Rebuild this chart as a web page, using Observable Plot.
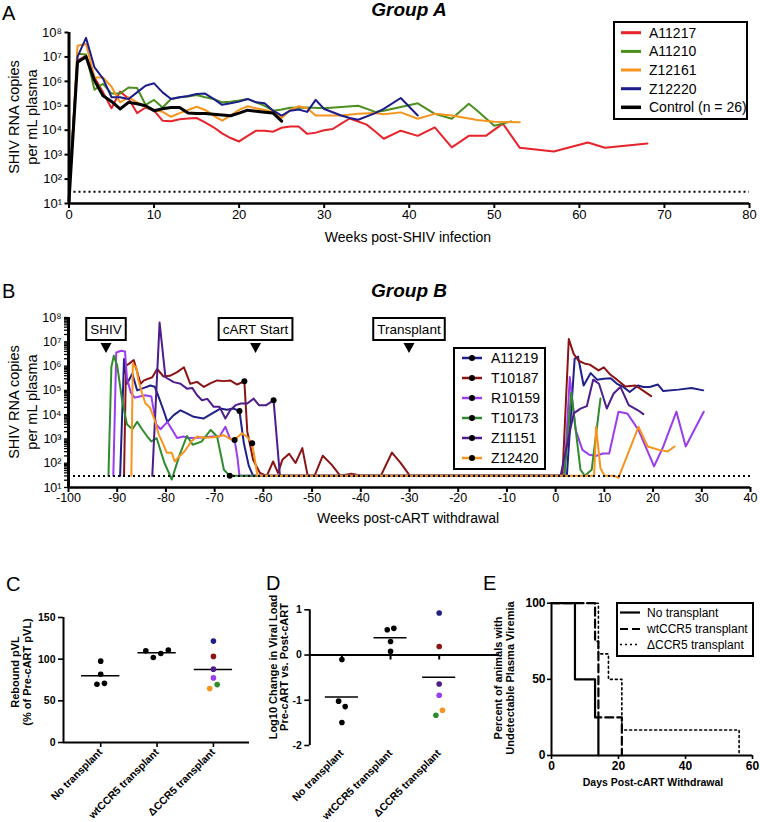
<!DOCTYPE html>
<html><head><meta charset="utf-8">
<script src="https://cdn.jsdelivr.net/npm/d3@7"></script>
<script src="https://cdn.jsdelivr.net/npm/@observablehq/plot@0.6"></script>
<style>
body{margin:0;background:#fff;}
#root{position:relative;width:760px;height:822px;overflow:hidden;background:#fff;}
#root svg{position:absolute;overflow:visible;}
</style>
</head><body><div id="root"></div>
<script>
// ---------------- DATA ----------------
const LOD = 30;
// Panel A (log10 SHIV RNA copies/mL by week post-infection)
const aNames = ["A11217", "A11210", "Z12161", "Z12220", "Control (n = 26)"];
const weeksA11217 = [0,1,2,3,4,5,6,7,8,9,10,11,12,13,14,15,16,17,18,19,20,21,22,23,24,25,26,27,28,29,30,31,32,33,35,36,37,39,41,43,45,47,49,51,53,57,61,63,68];
const logA11217 = [1.3,6.85,7.05,6.16,5.55,4.9,5.58,5.3,4.7,4.93,4.8,4.39,4.37,4.45,4.48,4.5,4.32,4.12,3.87,3.68,3.54,3.77,3.98,3.98,3.94,4.1,4.15,4.15,3.85,3.9,4.0,4.05,4.27,4.48,4.23,3.95,3.65,3.98,3.77,4.12,3.3,3.77,3.77,4.27,3.28,3.13,3.5,3.28,3.46];
const weeksA11210 = [0,1,2,3,4,5,6,7,8,9,10,11,12,13,14,15,16,17,18,19,20,21,22,23,24,25,26,28,30,32,34,36,37,39,41,43,45,47,48,50,52];
const logA11210 = [1.3,7.13,7.1,5.66,5.9,5.5,5.5,5.75,5.73,5.04,5.24,4.93,5.28,5.35,5.38,5.44,5.35,5.28,5.14,5.17,5.22,5.28,5.14,5.0,4.8,4.85,4.92,4.93,4.9,4.95,5.0,4.75,4.8,4.95,5.1,4.67,4.47,5.08,4.8,4.18,4.36];
const weeksZ12161 = [0,1,2,3,4,5,6,7,8,9,10,11,12,13,14,15,16,17,18,19,20,21,22,23,24,25,26,27,28,29,30,32,34,36,37,39,41,43,45,48,50,53];
const logZ12161 = [1.3,7.46,7.53,6.16,6.16,5.78,5.14,5.35,5.14,4.96,4.83,4.75,4.55,4.7,4.83,4.96,4.83,4.6,4.39,4.6,4.83,4.98,4.9,4.83,4.75,4.5,4.83,4.98,4.9,4.6,4.6,4.6,4.67,4.7,4.65,4.73,4.47,4.67,4.6,4.42,4.35,4.33];
const weeksZ12220 = [0,1,2,3,4,5,6,7,8,9,10,11,12,13,14,15,16,17,18,19,20,21,22,23,24,25,26,27,28,29,30,32,33,34,36,37,39,41];
const logZ12220 = [1.3,7.0,7.78,6.57,6.11,5.35,5.35,5.28,5.55,5.82,5.92,5.55,5.28,5.35,5.4,5.48,5.5,5.28,5.04,5.1,5.17,5.28,5.14,5.1,4.8,4.6,4.8,4.85,4.75,5.24,4.87,4.6,4.5,4.43,4.7,4.87,5.32,4.6];
const weeksControl = [0,1,2,3,4,5,6,7,8,9,10,11,12,13,14,15,16,17,18,19,20,21,22,23,24,25];
const logControl = [1.1,6.78,7.01,6.03,5.41,5.18,4.87,5.14,5.08,5.0,4.8,4.88,4.93,4.93,4.7,4.68,4.68,4.65,4.62,4.59,4.7,4.82,4.78,4.74,4.7,4.37];

// Panel B (log10 copies by week post-cART withdrawal)
const bNames = ["A11219", "T10187", "R10159", "T10173", "Z11151", "Z12420"];
const weeksA11219 = [-89.4,-88.6,-88.0,-86.9,-85.9,-84.5,-83.2,-82.3,-81.5,-80.5,-79.7,-78.4,-77.0,-75.7,-74.3,-72.3,-70.5,-68.8,-67.5,-66.1,-64.9,-64.0,-63.0,-62.1,2.3,3.9,4.6,5.75,7.2,8.5,9.9,11.3,12.6,13.9,15.2,16.9,18.0,19.3,21.0,22.1,25.2,27.9,30.3];
const logA11219 = [1.48,6.29,5.27,5.68,5.0,5.1,5.2,5.15,4.73,4.18,3.7,3.98,4.18,4.05,3.91,3.84,4.05,4.25,4.2,4.25,4.15,2.82,1.9,1.48,1.48,6.3,6.39,5.2,5.71,5.44,5.48,5.5,5.27,5.14,4.93,5.2,5.14,5.14,5.24,4.97,5.03,5.1,5.0];
const weeksT10187 = [-88.6,-88.2,-87.6,-86.6,-85.2,-84.5,-82.8,-81.8,-80.5,-79.2,-77.7,-76.3,-75.0,-73.6,-72.2,-70.8,-69.5,-68.1,-66.8,-65.4,-63.9,-63.3,-62.1,-60.7,-59.3,-58.0,-57.0,-56.1,-54.7,-53.4,-52.0,-50.9,-49.5,-47.8,-46.0,-44.2,-41.9,-40.0,-35.9,-33.6,-31.8,-29.9,1.4,2.7,3.7,4.7,5.9,7.0,8.8,9.9,11.2,12.6,14.3,16.4,18.1,19.6];
const logT10187 = [1.48,6.02,6.09,6.25,5.27,5.41,5.54,5.88,5.57,5.6,5.75,5.95,5.27,5.35,5.14,5.3,5.41,5.38,5.41,5.24,5.37,3.3,2.14,1.6,1.48,2.07,1.6,2.14,2.39,2.01,2.62,1.48,1.48,2.31,1.94,1.48,1.57,1.48,1.48,2.44,2.0,1.48,1.48,7.11,6.5,6.22,6.11,6.06,5.82,5.95,5.65,5.44,5.16,5.2,4.97,4.76];
const weeksR10159 = [-90.8,-90.2,-89.2,-88.4,-88.0,-87.2,-86.4,-85.4,-84.2,-83.0,-82.0,-81.1,-79.7,-78.7,-77.7,-76.4,-75.2,-73.6,-72.0,-70.4,-69.0,-67.8,-66.8,-65.9,-65.3,-64.9,1.8,2.9,4.1,5.5,6.9,8.3,9.7,11.0,12.9,14.7,17.0,20.2,22.1,24.8,26.7,30.4];
const logR10159 = [1.48,6.56,6.63,6.6,5.5,4.9,4.7,4.75,4.8,4.75,3.6,3.4,3.7,3.37,3.04,3.1,3.04,3.05,3.07,3.1,3.1,3.5,3.0,2.96,2.2,1.48,1.48,5.55,3.37,2.55,2.35,2.3,2.4,2.4,4.12,4.05,3.37,1.87,2.69,4.12,2.69,4.12];
const weeksT10173 = [-91.8,-91.2,-90.7,-90.0,-89.0,-88.0,-86.9,-85.9,-84.9,-83.9,-83.0,-81.9,-80.3,-78.8,-77.3,-75.7,-74.5,-72.7,-70.8,-69.5,-68.1,-66.9,1.8,3.2,5.1,6.0,7.4,9.2];
const logT10173 = [1.48,5.95,6.43,6.02,4.6,3.6,3.4,3.7,3.4,3.12,2.9,3.03,2.01,1.33,2.28,3.12,2.76,2.89,3.37,3.1,1.73,1.48,1.48,4.93,1.73,1.48,1.73,4.66];
const weeksZ11151 = [-82.8,-81.3,-80.1,-78.4,-77.0,-75.7,-74.6,-73.6,-72.6,-71.5,-70.2,-69.0,-67.8,-66.8,-65.7,-64.6,-63.3,-62.0,-60.9,-59.4,-57.9,-56.6,1.0,3.7,5.1,6.4,7.7,8.9,10.5,11.9,13.3,15.0,16.9,18.0];
const logZ11151 = [1.48,7.79,5.54,5.34,5.27,5.07,5.1,4.8,4.59,4.65,4.32,4.32,3.84,4.18,4.39,4.46,4.46,4.66,4.39,4.39,4.59,1.48,1.48,4.05,4.25,4.35,5.44,5.27,4.25,4.87,5.14,4.39,4.18,4.02];
const weeksZ12420 = [-87.1,-86.8,-86.0,-85.7,-84.9,-84.2,-83.3,-82.3,-81.5,-80.8,-79.8,-78.8,-78.2,-77.2,-76.2,-74.8,-73.6,-72.2,-70.2,-68.1,-66.8,-65.9,-64.4,-63.4,-62.3,-61.2,7.9,8.3,9.2,10.0,12.0,12.9,17.0,18.9,21.2,23.0,24.4];
const logZ12420 = [1.48,6.09,5.9,5.46,4.87,4.46,4.3,3.78,3.2,2.89,2.43,2.43,2.07,2.3,2.48,2.89,3.1,3.05,3.07,3.15,3.0,2.96,3.23,3.1,2.82,1.48,1.48,3.5,1.8,1.48,1.48,1.4,3.5,2.69,2.55,2.48,2.69];
// pre-cART end points (black dots), animal order as bNames
const bDotWeeks = [-64.9, -63.9, -65.9, -66.9, -57.9, -62.3];
const bDotLogs = [4.15, 5.37, 2.96, 1.48, 4.59, 2.82];
// event annotations
const bEventLabels = ["SHIV", "cART Start", "Transplant"];
const bEventWeeks = [-92.2, -61.5, -30];

// Panels C & D
const groups = ["No transplant", "wtCCR5 transplant", "ΔCCR5 transplant"];
const cNo = [97.6, 81.9, 69.9, 71.0];
const cWt = [110.0, 102.0, 106.8, 110.8];
const cDelta = [121.7, 103.3, 88.0, 77.5, 64.7, 69.5];
const cDeltaAnimals = ["A11219", "T10187", "Z11151", "R10159", "Z12420", "T10173"];
const cMeans = [80.0, 107.6, 87.5];
const dNo = [-0.10, -1.02, -1.14, -1.49];
const dWt = [0.56, 0.59, 0.30, 0.08];
const dDelta = [0.93, 0.19, -0.64, -0.89, -1.33, -1.22];
const dDeltaAnimals = ["A11219", "T10187", "Z11151", "R10159", "T10173", "Z12420"];
const dMeans = [-0.93, 0.38, -0.49];

// Panel E (Kaplan-Meier style)
const eDaysNo = [0, 7, 13, 14];
const ePctNo = [100, 50, 25, 0];
const eDaysWt = [0, 13, 14, 21];
const ePctWt = [100, 75, 25, 0];
const eDaysDelta = [0, 14, 17, 21, 56];
const ePctDelta = [100, 66.7, 50, 16.7, 0];

// ---------------- STYLE ----------------
const FONT = '"Liberation Sans", Arial, Helvetica, sans-serif';
const aColors = ["#e8232b", "#4b8f1f", "#f7941d", "#1c1c8a", "#000000"];
const aWidths = [2, 2, 2, 2, 3];
const bColorMap = {A11219: "#1f1f87", T10187: "#8c1414", R10159: "#9a3cf0", T10173: "#2e8b2e", Z11151: "#4e1c8c", Z12420: "#f7941d"};

const sup = "⁰¹²³⁴⁵⁶⁷⁸⁹";
function powLabel(d) {
  const e = Math.log10(d), r = Math.round(e);
  return Math.abs(e - r) < 1e-6 ? "10" + String(r).split("").map(c => sup[+c]).join("") : "";
}
const plain = d => String(d);
const rows = (weeks, logs) => weeks.map((w, i) => ({week: w, copies: Math.pow(10, logs[i])}));
function scaleFn(chart, name) {
  const s = chart.scale(name);
  if (s && typeof s.apply === "function") return v => s.apply(v);
  const [d0, d1] = s.domain, [r0, r1] = s.range;
  return v => r0 + (v - d0) / (d1 - d0) * (r1 - r0);
}
const root = document.getElementById("root");
function place(svg, left, top) { svg.style.left = left + "px"; svg.style.top = top + "px"; root.appendChild(svg); return svg; }

// ---------------- PANEL A ----------------
const aSeries = [[weeksA11217, logA11217], [weeksA11210, logA11210], [weeksZ12161, logZ12161], [weeksZ12220, logZ12220], [weeksControl, logControl]];
const decades = d3.range(1, 9).map(e => Math.pow(10, e));
const plotA = Plot.plot({
  width: 760, height: 250, marginLeft: 68.5, marginRight: 11, marginTop: 32, marginBottom: 47,
  style: {fontFamily: FONT, fontSize: "13px", background: "transparent", overflow: "visible"},
  x: {domain: [0, 80], ticks: d3.range(0, 81, 10), tickFormat: plain, tickSize: 5, tickPadding: 1, label: null},
  y: {type: "log", domain: [10, 1e8], ticks: decades, tickFormat: powLabel, tickSize: 4, tickPadding: 3, label: null},
  marks: [
    Plot.ruleY([LOD], {strokeDasharray: "2,3", strokeWidth: 2}),
    ...aSeries.map(([w, l], i) => Plot.line(rows(w, l), {x: "week", y: "copies", stroke: aColors[i], strokeWidth: aWidths[i]})),
    Plot.ruleX([0], {y1: 10, y2: 1e8, strokeWidth: 3}),
    Plot.ruleY([10], {strokeWidth: 2.5})
  ]
});
place(plotA, 0, 0);

// ---------------- PANEL B ----------------
const bSeries = [[weeksA11219, logA11219], [weeksT10187, logT10187], [weeksR10159, logR10159], [weeksT10173, logT10173], [weeksZ11151, logZ11151], [weeksZ12420, logZ12420]];
const bYTicks = d3.range(1, 8).flatMap(e => d3.range(1, 10).map(m => m * Math.pow(10, e))).concat([1e8]);
const bDots = bDotWeeks.map((w, i) => ({week: w, copies: Math.pow(10, bDotLogs[i])}));
const plotB = Plot.plot({
  width: 760, height: 268, marginLeft: 68, marginRight: 10, marginTop: 55, marginBottom: 43,
  style: {fontFamily: FONT, fontSize: "12.5px", background: "transparent", overflow: "visible"},
  x: {domain: [-100, 40], ticks: d3.range(-100, 41, 10), tickFormat: plain, tickSize: 5, tickPadding: 1, label: null},
  y: {type: "log", domain: [10, 1e8], ticks: bYTicks, tickFormat: powLabel, tickSize: 4, tickPadding: 3, label: null},
  marks: [
    ...bSeries.map(([w, l], i) => Plot.line(rows(w, l), {x: "week", y: "copies", stroke: bColorMap[bNames[i]], strokeWidth: 2})),
    Plot.ruleY([LOD], {strokeDasharray: "2,3", strokeWidth: 2}),
    Plot.dot(bDots, {x: "week", y: "copies", r: 3, fill: "black"}),
    Plot.ruleX([-100], {y1: 10, y2: 1e8, strokeWidth: 3}),
    Plot.ruleY([10], {strokeWidth: 2.5})
  ]
});
place(plotB, 0, 262);

// axis tick thickness
d3.select(plotA).selectAll('g[aria-label="x-axis tick"], g[aria-label="y-axis tick"]').attr("stroke-width", 2);
d3.select(plotB).selectAll('g[aria-label="x-axis tick"]').attr("stroke-width", 2);
d3.select(plotB).selectAll('g[aria-label="y-axis tick"]').attr("stroke-width", 1.3);

// ---------------- dodge helper (layout only) ----------------
function spread(pxVals, threshold, spacing) {
  const idx = pxVals.map((v, i) => i).sort((a, b) => pxVals[a] - pxVals[b]);
  const clusters = []; let cur = [idx[0]];
  for (let k = 1; k < idx.length; k++) {
    if (pxVals[idx[k]] - pxVals[idx[k - 1]] < threshold) cur.push(idx[k]);
    else { clusters.push(cur); cur = [idx[k]]; }
  }
  clusters.push(cur);
  const off = pxVals.map(() => 0);
  for (const c of clusters) {
    const m = c.slice().sort((a, b) => a - b);
    m.forEach((j, k) => off[j] = (k - (m.length - 1) / 2) * spacing);
  }
  return off;
}

// ---------------- PANEL C ----------------
const C = {w: 260, h: 262, ml: 63, mr: 11, mt: 57, mb: 80, xd: [-0.66, 2.64], yd: [0, 150]};
const cPxPerUnit = (C.w - C.ml - C.mr) / (C.xd[1] - C.xd[0]);
const cYpx = v => C.mt + (C.yd[1] - v) / (C.yd[1] - C.yd[0]) * (C.h - C.mt - C.mb);
const cGroupsVals = [cNo, cWt, cDelta];
const cRows = cGroupsVals.flatMap((vals, g) => {
  const off = spread(vals.map(cYpx), 6, 7.5);
  return vals.map((v, i) => ({x: g + off[i] / cPxPerUnit, v, color: g === 2 ? bColorMap[cDeltaAnimals[i]] : "#000"}));
});
const plotC = Plot.plot({
  width: C.w, height: C.h, marginLeft: C.ml, marginRight: C.mr, marginTop: C.mt, marginBottom: C.mb,
  style: {fontFamily: FONT, fontSize: "10.5px", fontWeight: "bold", background: "transparent", overflow: "visible"},
  color: {type: "identity"},
  x: {domain: C.xd, ticks: [0, 1, 2], tickFormat: i => groups[i], tickRotate: -45, tickSize: 5, tickPadding: 3, label: null},
  y: {domain: C.yd, ticks: [0, 50, 100, 150], tickFormat: plain, tickSize: 5, tickPadding: 3, label: null},
  marks: [
    Plot.ruleY(cMeans.map((m, i) => ({i, m})), {y: "m", x1: d => d.i - 0.34, x2: d => d.i + 0.34, strokeWidth: 1.5}),
    Plot.dot(cRows, {x: "x", y: "v", r: 2.8, fill: "color"}),
    Plot.ruleX([C.xd[0]], {y1: 0, y2: 150, strokeWidth: 2}),
    Plot.ruleY([0], {strokeWidth: 2})
  ]
});
place(plotC, 0, 560);

// ---------------- PANEL D ----------------
const D = {w: 260, h: 262, ml: 59.3, mr: 11, mt: 49.3, mb: 77, xd: [-0.66, 3.24], yd: [-2, 1]};
const dPxPerUnit = (D.w - D.ml - D.mr) / (D.xd[1] - D.xd[0]);
const dYpx = v => D.mt + (D.yd[1] - v) / (D.yd[1] - D.yd[0]) * (D.h - D.mt - D.mb);
const dGroupsVals = [dNo, dWt, dDelta];
const dRows = dGroupsVals.flatMap((vals, g) => {
  const off = spread(vals.map(dYpx), 6, 6.6);
  return vals.map((v, i) => ({x: g + off[i] / dPxPerUnit, v, color: g === 2 ? bColorMap[dDeltaAnimals[i]] : "#000"}));
});
const plotD = Plot.plot({
  width: D.w, height: D.h, marginLeft: D.ml, marginRight: D.mr, marginTop: D.mt, marginBottom: D.mb,
  style: {fontFamily: FONT, fontSize: "10.5px", fontWeight: "bold", background: "transparent", overflow: "visible"},
  color: {type: "identity"},
  x: {domain: D.xd, ticks: [0, 1, 2], tickFormat: i => groups[i], tickRotate: -45, tickSize: 0, tickPadding: 6, label: null},
  y: {domain: D.yd, ticks: [-2, -1, 0, 1], tickFormat: plain, tickSize: 5, tickPadding: 3, label: null},
  marks: [
    Plot.ruleY([0], {strokeWidth: 2}),
    Plot.ruleX([0, 1, 2], {y1: 0, y2: -0.11, strokeWidth: 2}),
    Plot.ruleY(dMeans.map((m, i) => ({i, m})), {y: "m", x1: d => d.i - 0.34, x2: d => d.i + 0.34, strokeWidth: 1.5}),
    Plot.dot(dRows, {x: "x", y: "v", r: 2.8, fill: "color"}),
    Plot.ruleX([D.xd[0]], {y1: -2, y2: 1, strokeWidth: 2})
  ]
});
place(plotD, 250, 560);

// ---------------- PANEL E ----------------
const eRows = (d, p) => d.map((x, i) => ({day: x, pct: p[i]}));
const plotE = Plot.plot({
  width: 270, height: 262, marginLeft: 61, marginRight: 8, marginTop: 42.7, marginBottom: 67,
  style: {fontFamily: FONT, fontSize: "12px", fontWeight: "bold", background: "transparent", overflow: "visible"},
  x: {domain: [0, 60], ticks: [0, 20, 40, 60], tickFormat: plain, tickSize: 4, tickPadding: 2, label: null},
  y: {domain: [0, 100], ticks: [0, 50, 100], tickFormat: plain, tickSize: 4, tickPadding: 2, label: null},
  marks: [
    Plot.line(eRows(eDaysDelta, ePctDelta), {x: "day", y: "pct", curve: "step-after", strokeWidth: 1.6, strokeDasharray: "2,3"}),
    Plot.line(eRows(eDaysWt, ePctWt), {x: "day", y: "pct", curve: "step-after", strokeWidth: 2.2, strokeDasharray: "8,4"}),
    Plot.line(eRows(eDaysNo, ePctNo), {x: "day", y: "pct", curve: "step-after", strokeWidth: 2.2}),
    Plot.ruleX([0], {y1: 0, y2: 100, strokeWidth: 2}),
    Plot.ruleY([0], {strokeWidth: 2})
  ]
});
place(plotE, 490, 560);
[plotC, plotD, plotE].forEach(p => d3.select(p).selectAll('g[aria-label="x-axis tick"], g[aria-label="y-axis tick"]').attr("stroke-width", 1.6));

// ---------------- OVERLAY: titles, legends, annotations ----------------
const ov = d3.select(root).append("svg").attr("width", 760).attr("height", 822)
  .style("left", "0px").style("top", "0px").style("font-family", FONT).style("pointer-events", "none");
function T(x, y, s, o = {}) {
  const t = ov.append("text").attr("x", x).attr("y", y).text(s)
    .attr("font-size", o.size || 14).attr("font-weight", o.weight || "normal").attr("font-style", o.style || "normal")
    .attr("text-anchor", o.anchor || "start").attr("dominant-baseline", o.baseline || "central").attr("fill", "#000");
  if (o.rotate) t.attr("transform", `rotate(${o.rotate},${x},${y})`);
  return t;
}
// panel letters
[["A", 2, 20], ["B", 2, 298], ["C", 6, 591], ["D", 266, 590], ["E", 483, 590]].forEach(([s, x, y]) => T(x, y, s, {size: 20, baseline: "alphabetic"}));
// group titles
T(409, 16, "Group A", {size: 19, weight: "bold", style: "italic", anchor: "middle", baseline: "alphabetic"});
T(409, 297, "Group B", {size: 19, weight: "bold", style: "italic", anchor: "middle", baseline: "alphabetic"});
// axis titles A/B
T(14, 117, "SHIV RNA copies", {size: 14.5, anchor: "middle", rotate: -90});
T(32, 117, "per mL plasma", {size: 14.5, anchor: "middle", rotate: -90});
T(14, 402, "SHIV RNA copies", {size: 14.5, anchor: "middle", rotate: -90});
T(32, 402, "per mL plasma", {size: 14.5, anchor: "middle", rotate: -90});
T(408, 237, "Weeks post-SHIV infection", {size: 14, anchor: "middle"});
T(408, 518, "Weeks post-cART withdrawal", {size: 14, anchor: "middle"});
// axis titles C/D/E
T(15, 672, "Rebound pVL", {size: 11, weight: "bold", anchor: "middle", rotate: -90});
T(27, 672, "(% of Pre-cART pVL)", {size: 11, weight: "bold", anchor: "middle", rotate: -90});
T(273, 667, "Log10 Change in Viral Load", {size: 11, weight: "bold", anchor: "middle", rotate: -90});
T(284, 667, "Pre-cART vs. Post-cART", {size: 11, weight: "bold", anchor: "middle", rotate: -90});
T(498, 678, "Percent of animals with", {size: 11, weight: "bold", anchor: "middle", rotate: -90});
T(510, 678, "Undetectable Plasma Viremia", {size: 11, weight: "bold", anchor: "middle", rotate: -90});
T(653, 782, "Days Post-cART Withdrawal", {size: 10.5, weight: "bold", anchor: "middle"});

// legend A
ov.append("rect").attr("x", 614).attr("y", 22).attr("width", 133).attr("height", 97).attr("fill", "#fff").attr("stroke", "#000").attr("stroke-width", 2);
const aLegY = [32.7, 51.4, 70, 88.7, 107.3];
aNames.forEach((n, i) => {
  ov.append("line").attr("x1", 621).attr("x2", 641).attr("y1", aLegY[i]).attr("y2", aLegY[i]).attr("stroke", aColors[i]).attr("stroke-width", i === 4 ? 3.5 : 3);
  T(649, aLegY[i], n, {size: 14});
});

// legend B
ov.append("rect").attr("x", 454).attr("y", 348).attr("width", 91).attr("height", 121).attr("fill", "#fff").attr("stroke", "#000").attr("stroke-width", 2);
bNames.forEach((n, i) => {
  const y = 358 + i * 20;
  ov.append("line").attr("x1", 462).attr("x2", 482).attr("y1", y).attr("y2", y).attr("stroke", bColorMap[n]).attr("stroke-width", 2.5);
  ov.append("circle").attr("cx", 472).attr("cy", y).attr("r", 3).attr("fill", "#000");
  T(491, y, n, {size: 14});
});

// event annotations B (x from Plot's scale)
const bx = scaleFn(plotB, "x");
bEventLabels.forEach((lab, i) => {
  const cx = bx(bEventWeeks[i]);
  const g = ov.append("g");
  const rect = g.append("rect");
  const t = g.append("text").attr("x", cx).attr("y", 329.5).text(lab).attr("font-size", 13.5)
    .attr("text-anchor", "middle").attr("dominant-baseline", "central");
  const w = t.node().getBBox().width;
  rect.attr("x", cx - w / 2 - 4).attr("y", 318).attr("width", w + 8).attr("height", 22).attr("fill", "#fff").attr("stroke", "#000").attr("stroke-width", 2);
  g.append("polygon").attr("points", `${cx - 5.5},343 ${cx + 5.5},343 ${cx},353`).attr("fill", "#000");
});

// legend E
ov.append("rect").attr("x", 617).attr("y", 603).attr("width", 136).attr("height", 53).attr("fill", "#fff").attr("stroke", "#000").attr("stroke-width", 2);
const eLab = ["No transplant", "wtCCR5 transplant", "ΔCCR5 transplant"];
const eDash = [null, "8,4", "2,3"];
const eW = [2.2, 2.2, 1.6];
const eLegY = [612.5, 629, 644.5];
eLab.forEach((s, i) => {
  const l = ov.append("line").attr("x1", 620).attr("x2", 640).attr("y1", eLegY[i]).attr("y2", eLegY[i]).attr("stroke", "#000").attr("stroke-width", eW[i]);
  if (eDash[i]) l.attr("stroke-dasharray", eDash[i]);
  T(647, eLegY[i], s, {size: 12});
});
</script>
</body></html>
